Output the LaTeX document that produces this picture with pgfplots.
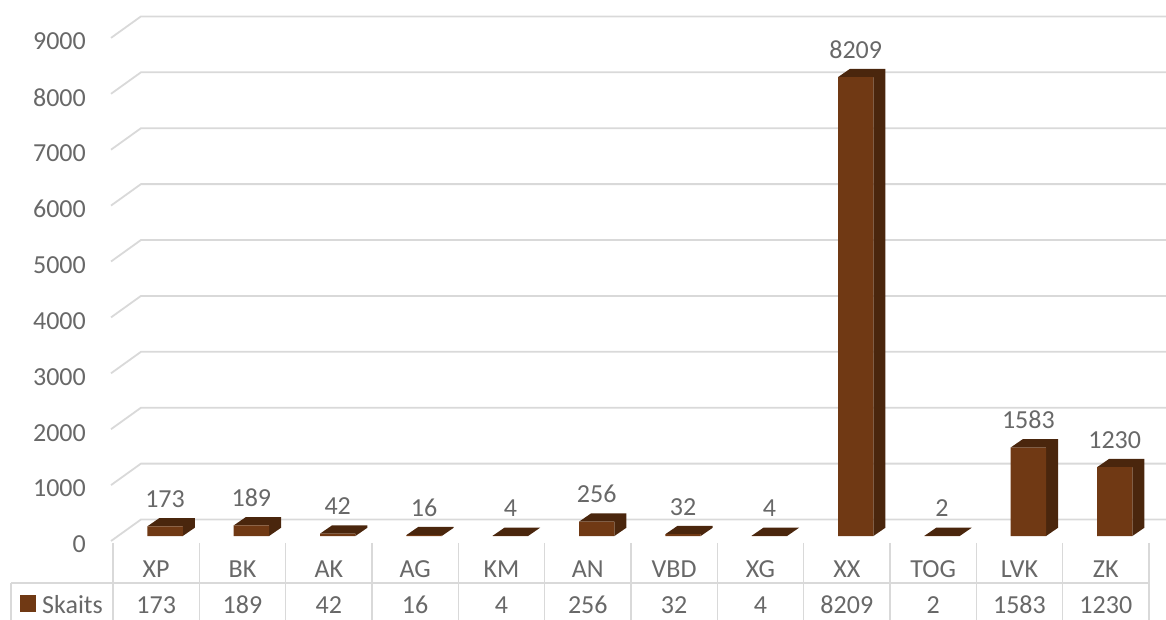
\documentclass[border=0pt]{standalone}
\usepackage{fontspec}
\setmainfont{Carlito}
\usepackage{pgfplots}
\usepackage{pgfplotstable}
\pgfplotsset{compat=1.18}
\definecolor{frontc}{HTML}{703914}
\definecolor{sidec}{HTML}{4A260D}
\definecolor{gridc}{HTML}{D9D9D9}
\definecolor{txtc}{HTML}{686868}
\pgfplotsset{/pgf/number format/1000 sep={}, /pgf/number format/assume math mode=true}
\pgfplotstableread{
x v
0 173
1 189
2 42
3 16
4 4
5 256
6 32
7 4
8 8209
9 2
10 1583
11 1230
}\datatable
\begin{document}
\fontsize{26}{31}\selectfont\color{txtc}%
\begin{tikzpicture}
\begin{axis}[
  x=86.33pt, y=0.05589pt,
  xmin=0, xmax=12, ymin=0, ymax=9000,
  clip=false,
  axis line style={draw=none},
  major tick length=0pt,
  scaled y ticks=false,
  ytick={0,1000,...,9000},
  yticklabel style={anchor=east, inner sep=0pt, xshift=-27pt, yshift=-8.5pt},
  xtick={0.5,1.5,...,11.5},
  xticklabels={XP,BK,AK,AG,KM,AN,VBD,XG,XX,TOG,LVK,ZK},
  xticklabel style={anchor=base, inner sep=0pt, yshift=-41pt},
]
\coordinate (O) at (axis cs:0,0);
% gridlines (3D wall)
\pgfplotsinvokeforeach{0,...,9}{
  \pgfmathsetmacro\ya{#1*1000-89.5}
  \pgfmathsetmacro\yb{#1*1000+295}
  \edef\tmp{\noexpand\addplot[gridc, line width=1.8pt, forget plot] coordinates {(-0.023,\ya) (0.324,\yb) (12.197,\yb)};}
  \tmp
}
% side + top faces
\pgfplotsinvokeforeach{0,...,11}{
  \pgfplotstablegetelem{#1}{v}\of\datatable
  \pgfmathsetmacro\vt{\pgfplotsretval}
  \pgfmathsetmacro\vd{\pgfplotsretval+148}
  \pgfmathsetmacro\xl{#1+0.398}
  \pgfmathsetmacro\xr{#1+0.808}
  \pgfmathsetmacro\xld{\xl+0.139}
  \pgfmathsetmacro\xrd{\xr+0.139}
  \edef\tmp{\noexpand\addplot[fill=sidec, draw=none, forget plot] coordinates {(\xl,\vt) (\xld,\vd) (\xrd,\vd) (\xrd,148) (\xr,0) (\xr,\vt)};}
  \tmp
}
% front faces
\addplot[ybar, bar width=0.41, bar shift=0pt, fill=frontc, draw=none, forget plot]
  table[x expr=\thisrow{x}+0.603, y=v] {\datatable};
% data labels
\addplot[draw=none, mark=none, nodes near coords, point meta=\thisrow{v},
  nodes near coords style={anchor=base, inner sep=0pt, text=txtc}, forget plot]
  table[x expr=\thisrow{x}+0.603, y expr=\thisrow{v}+340] {\datatable};
% data table
\draw[gridc, line width=1.5pt] (axis cs:-1.18,-841) -- (axis cs:12,-841);
\draw[gridc, line width=1.5pt] (axis cs:-1.18,-841) -- (axis cs:-1.18,-1600);
\pgfplotsinvokeforeach{0,...,12}{
  \draw[gridc, line width=1.5pt] (axis cs:#1,-125) -- (axis cs:#1,-1600);
}
\fill[frontc] (axis cs:-1.077,-1055) rectangle (axis cs:-0.892,-1360);
\node[anchor=base west, inner sep=0pt, text=txtc] at (axis cs:-0.822,-1378) {Skaits};
\addplot[draw=none, mark=none, nodes near coords, point meta=\thisrow{v},
  nodes near coords style={anchor=base, inner sep=0pt, text=txtc}, forget plot]
  table[x expr=\thisrow{x}+0.5, y expr=-1378] {\datatable};
\end{axis}
\pgfresetboundingbox
\path[use as bounding box] ([shift={(-113pt,-83pt)}]O) rectangle ([shift={(1053pt,536pt)}]O);
\end{tikzpicture}
\end{document}
